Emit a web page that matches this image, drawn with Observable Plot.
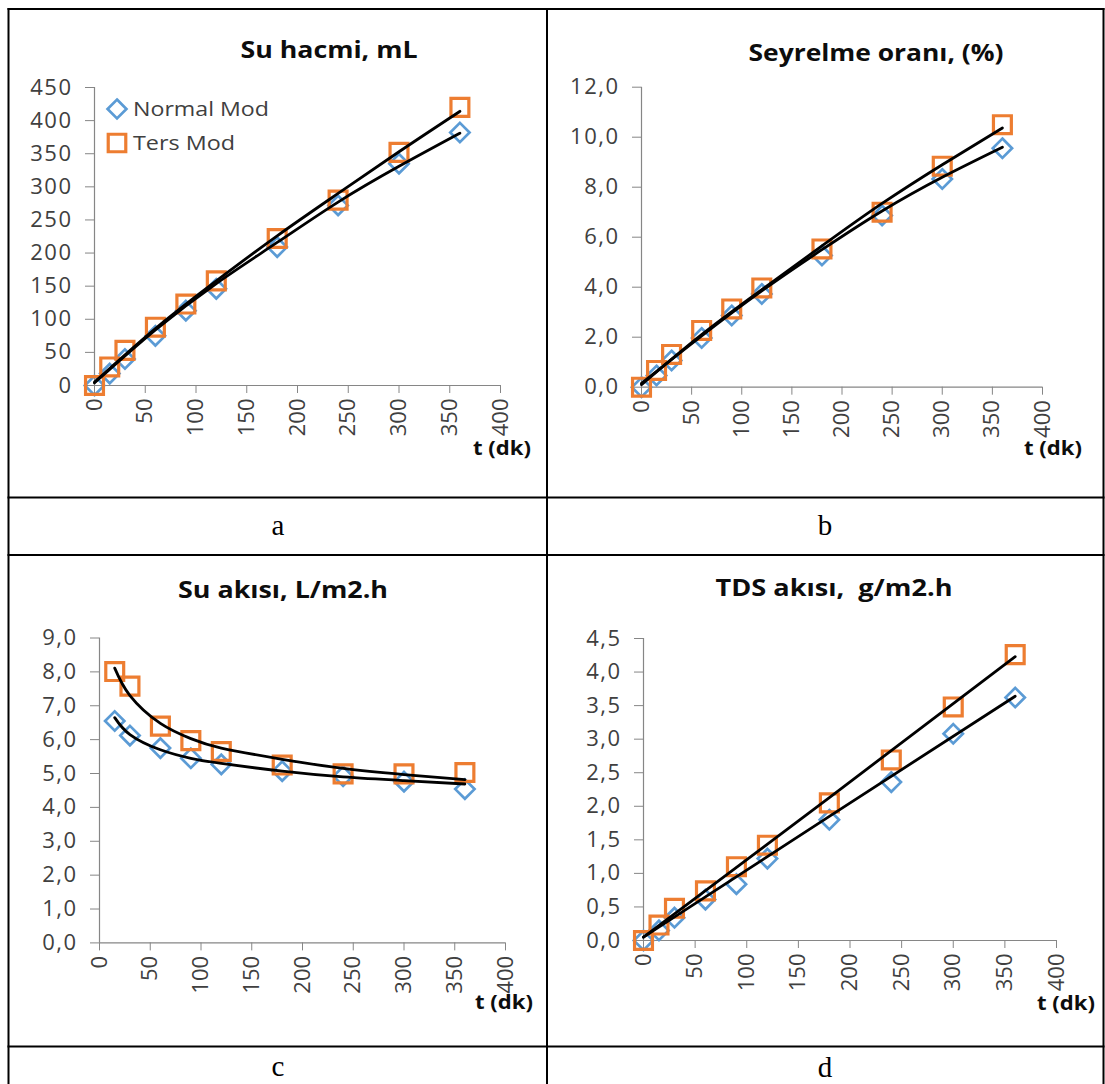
<!DOCTYPE html>
<html>
<head>
<meta charset="utf-8">
<script src="https://cdn.jsdelivr.net/npm/d3@7"></script>
<script src="https://cdn.jsdelivr.net/npm/@observablehq/plot@0.6"></script>
<style>
  body { margin: 0; background: #fff; }
  #page { position: relative; width: 1105px; height: 1084px; overflow: hidden; background: #fff; }
  .chart { position: absolute; }
  #overlay { position: absolute; left: 0; top: 0; pointer-events: none; }
</style>
</head>
<body>
<div id="page">
  <div id="ca" class="chart"></div>
  <div id="cb" class="chart"></div>
  <div id="cc" class="chart"></div>
  <div id="cd" class="chart"></div>
</div>
<script>
// ---------------- data ----------------
const seriesNames = ["Normal Mod", "Ters Mod"];
const xTicks = [0, 50, 100, 150, 200, 250, 300, 350, 400];
const times = [0, 15, 30, 60, 90, 120, 180, 240, 300, 360];
const fluxTimes = [15, 30, 60, 90, 120, 180, 240, 300, 360];

// a: Su hacmi, mL
const volumeNormal = [0, 18, 40, 75, 113, 146, 209, 272, 335, 382];
const volumeTers = [0, 28, 53, 88, 123, 158, 222, 280, 352, 420];
const volumeTrendTimes = [0, 60, 120, 180, 240, 300, 360];
const volumeTrendNormal = [4, 84, 154, 216, 277, 331, 381];
const volumeTrendTers = [5, 86, 158, 226, 290, 353, 414];
const volumeTicks = [0, 50, 100, 150, 200, 250, 300, 350, 400, 450];

// b: Seyrelme oranı, (%)
const dilutionNormal = [0, 0.47, 1.07, 1.97, 2.87, 3.73, 5.27, 6.87, 8.33, 9.56];
const dilutionTers = [0, 0.67, 1.31, 2.27, 3.13, 3.97, 5.53, 7.0, 8.84, 10.5];
const dilutionTrendTimes = [0, 60, 120, 180, 240, 300, 360];
const dilutionTrendNormal = [0.15, 2.05, 3.85, 5.5, 7.05, 8.4, 9.6];
const dilutionTrendTers = [0.1, 2.1, 3.9, 5.65, 7.35, 8.9, 10.37];
const dilutionTicks = [0, 2, 4, 6, 8, 10, 12];

// c: Su akısı, L/m2.h
const waterFluxNormal = [6.55, 6.12, 5.75, 5.45, 5.27, 5.07, 4.92, 4.76, 4.54];
const waterFluxTers = [8.01, 7.58, 6.40, 5.97, 5.65, 5.25, 4.99, 4.99, 5.03];
const waterFluxTrendNormal = [6.65, 6.15, 5.70, 5.45, 5.30, 5.07, 4.90, 4.79, 4.69];
const waterFluxTrendTers = [8.11, 7.3, 6.48, 6.03, 5.75, 5.42, 5.15, 4.97, 4.82];
const waterFluxTicks = [0, 1, 2, 3, 4, 5, 6, 7, 8, 9];

// d: TDS akısı, g/m2.h
const tdsFluxNormal = [0, 0.15, 0.34, 0.61, 0.84, 1.22, 1.80, 2.36, 3.08, 3.62];
const tdsFluxTers = [0, 0.23, 0.48, 0.74, 1.10, 1.42, 2.05, 2.69, 3.48, 4.26];
const tdsTrendTimes = [0, 180, 360];
const tdsTrendNormal = [0.05, 1.85, 3.64];
const tdsTrendTers = [0.05, 2.13, 4.23];
const tdsTicks = [0, 0.5, 1, 1.5, 2, 2.5, 3, 3.5, 4, 4.5];

const titles = ["Su hacmi, mL", "Seyrelme oranı, (%)", "Su akısı, L/m2.h", "TDS akısı,  g/m2.h"];
const xLabel = "t (dk)";
const panelLetters = ["a", "b", "c", "d"];

// ---------------- styles ----------------
const blue = "#5B9BD5";
const orange = "#ED7D31";
const axisGray = "#868686";
const textGray = "#404040";

const zip = (ts, vs) => ts.map((t, i) => ({t, v: vs[i]}));
const comma1 = d => d.toFixed(1).replace(".", ",");

function makeChart(cfg) {
  const svg = Plot.plot({
    width: cfg.width, height: cfg.height,
    marginLeft: cfg.ml, marginRight: cfg.mr, marginTop: cfg.mt, marginBottom: cfg.mb,
    x: {domain: [0, 400]},
    y: {domain: cfg.yDomain},
    style: {fontFamily: "'Open Sans', sans-serif", fontSize: "22px", background: "transparent", overflow: "visible"},
    marks: [
      Plot.ruleY([0], {stroke: axisGray, strokeWidth: 1.2}),
      Plot.ruleX([0], {stroke: axisGray, strokeWidth: 1.2}),
      Plot.axisY({ticks: cfg.yTicks, tickSize: 9, tickPadding: 13, stroke: axisGray, color: textGray, tickFormat: cfg.yFormat, label: null}),
      Plot.axisX({ticks: xTicks, tickSize: 8, tickPadding: 5, tickRotate: -90, stroke: axisGray, color: textGray, label: null}),
      Plot.dot(cfg.normal, {x: "t", y: "v", symbol: "diamond2", r: 8.7, stroke: blue, strokeWidth: 2.7, fill: "none"}),
      Plot.dot(cfg.ters, {x: "t", y: "v", symbol: "square", r: 10.1, stroke: orange, strokeWidth: 3.2, fill: "none"}),
      Plot.line(cfg.normalTrend, {x: "t", y: "v", stroke: "#000", strokeWidth: 2.8, curve: "natural"}),
      Plot.line(cfg.tersTrend, {x: "t", y: "v", stroke: "#000", strokeWidth: 2.8, curve: "natural"})
    ]
  });
  d3.select(svg).selectAll('g[aria-label="y-axis tick label"] text').style("letter-spacing", "1.5px");
  const host = document.getElementById(cfg.id);
  host.style.left = cfg.left + "px";
  host.style.top = cfg.top + "px";
  host.appendChild(svg);
}

makeChart({
  id: "ca", left: 10, top: 10, width: 536, height: 486, ml: 84, mr: 46, mt: 77, mb: 111,
  yDomain: [0, 450], yTicks: volumeTicks, yFormat: d => String(d),
  normal: zip(times, volumeNormal), ters: zip(times, volumeTers),
  normalTrend: zip(volumeTrendTimes, volumeTrendNormal), tersTrend: zip(volumeTrendTimes, volumeTrendTers)
});
makeChart({
  id: "cb", left: 549, top: 10, width: 553, height: 486, ml: 92, mr: 60, mt: 76.7, mb: 109.3,
  yDomain: [0, 12], yTicks: dilutionTicks, yFormat: comma1,
  normal: zip(times, dilutionNormal), ters: zip(times, dilutionTers),
  normalTrend: zip(dilutionTrendTimes, dilutionTrendNormal), tersTrend: zip(dilutionTrendTimes, dilutionTrendTers)
});
makeChart({
  id: "cc", left: 10, top: 557, width: 536, height: 488, ml: 89, mr: 41, mt: 80.5, mb: 102.6,
  yDomain: [0, 9], yTicks: waterFluxTicks, yFormat: comma1,
  normal: zip(fluxTimes, waterFluxNormal), ters: zip(fluxTimes, waterFluxTers),
  normalTrend: zip(fluxTimes, waterFluxTrendNormal), tersTrend: zip(fluxTimes, waterFluxTrendTers)
});
makeChart({
  id: "cd", left: 549, top: 557, width: 553, height: 488, ml: 94, mr: 46, mt: 81, mb: 105,
  yDomain: [0, 4.5], yTicks: tdsTicks, yFormat: comma1,
  normal: zip(times, tdsFluxNormal), ters: zip(times, tdsFluxTers),
  normalTrend: zip(tdsTrendTimes, tdsTrendNormal), tersTrend: zip(tdsTrendTimes, tdsTrendTers)
});

// ---------------- overlay: table lines, titles, axis labels, legend, panel letters ----------------
const ov = d3.select("#page").append("svg").attr("id", "overlay").attr("width", 1105).attr("height", 1084);
const vLines = [8.5, 547, 1103.5];
const hLines = [9, 497.5, 555, 1046.5, 1104];
vLines.forEach(x => ov.append("line").attr("x1", x).attr("x2", x).attr("y1", 8).attr("y2", 1105).attr("stroke", "#000").attr("stroke-width", 2));
hLines.forEach(y => ov.append("line").attr("x1", 7.5).attr("x2", 1104.5).attr("y1", y).attr("y2", y).attr("stroke", "#000").attr("stroke-width", 2));

const titlePos = [[329, 57.5, 177], [876, 61, 255], [283, 597.5, 210], [834, 596, 237]];
titles.forEach((t, i) => {
  const [cx, by, len] = titlePos[i];
  ov.append("text").attr("x", cx - len / 2).attr("y", by).attr("textLength", len).attr("lengthAdjust", "spacingAndGlyphs")
    .attr("font-family", "'Open Sans', sans-serif").attr("font-weight", "bold").attr("font-size", 24)
    .attr("fill", "#0d0d0d").style("white-space", "pre").text(t);
});
const xlabPos = [[473, 455], [1024, 455], [475, 1009], [1037, 1010]];
xlabPos.forEach(([x, y]) => {
  ov.append("text").attr("x", x).attr("y", y).attr("textLength", 58).attr("lengthAdjust", "spacingAndGlyphs")
    .attr("font-family", "'Open Sans', sans-serif").attr("font-weight", "bold").attr("font-size", 19)
    .attr("fill", "#0d0d0d").text(xLabel);
});
const letterPos = [[278, 535], [825, 535], [278, 1076], [825, 1077]];
panelLetters.forEach((l, i) => {
  ov.append("text").attr("x", letterPos[i][0]).attr("y", letterPos[i][1]).attr("text-anchor", "middle")
    .attr("font-family", "'Liberation Serif', 'Times New Roman', serif").attr("font-size", 29)
    .attr("fill", "#000").text(l);
});

// legend (chart a)
const legendItems = [
  {name: seriesNames[0], sym: d3.symbolDiamond2, r: 8.5, color: blue, sw: 2.7, cy: 109, len: 136},
  {name: seriesNames[1], sym: d3.symbolSquare, r: 9.9, color: orange, sw: 3.2, cy: 143, len: 102}
];
legendItems.forEach(it => {
  ov.append("path").attr("d", d3.symbol(it.sym, Math.PI * it.r * it.r)()).attr("transform", `translate(117,${it.cy})`)
    .attr("fill", "none").attr("stroke", it.color).attr("stroke-width", it.sw);
  ov.append("text").attr("x", 133).attr("y", it.cy + 7.2).attr("textLength", it.len).attr("lengthAdjust", "spacingAndGlyphs")
    .attr("font-family", "'Open Sans', sans-serif").attr("font-size", 20).attr("fill", textGray).text(it.name);
});
</script>
</body>
</html>
